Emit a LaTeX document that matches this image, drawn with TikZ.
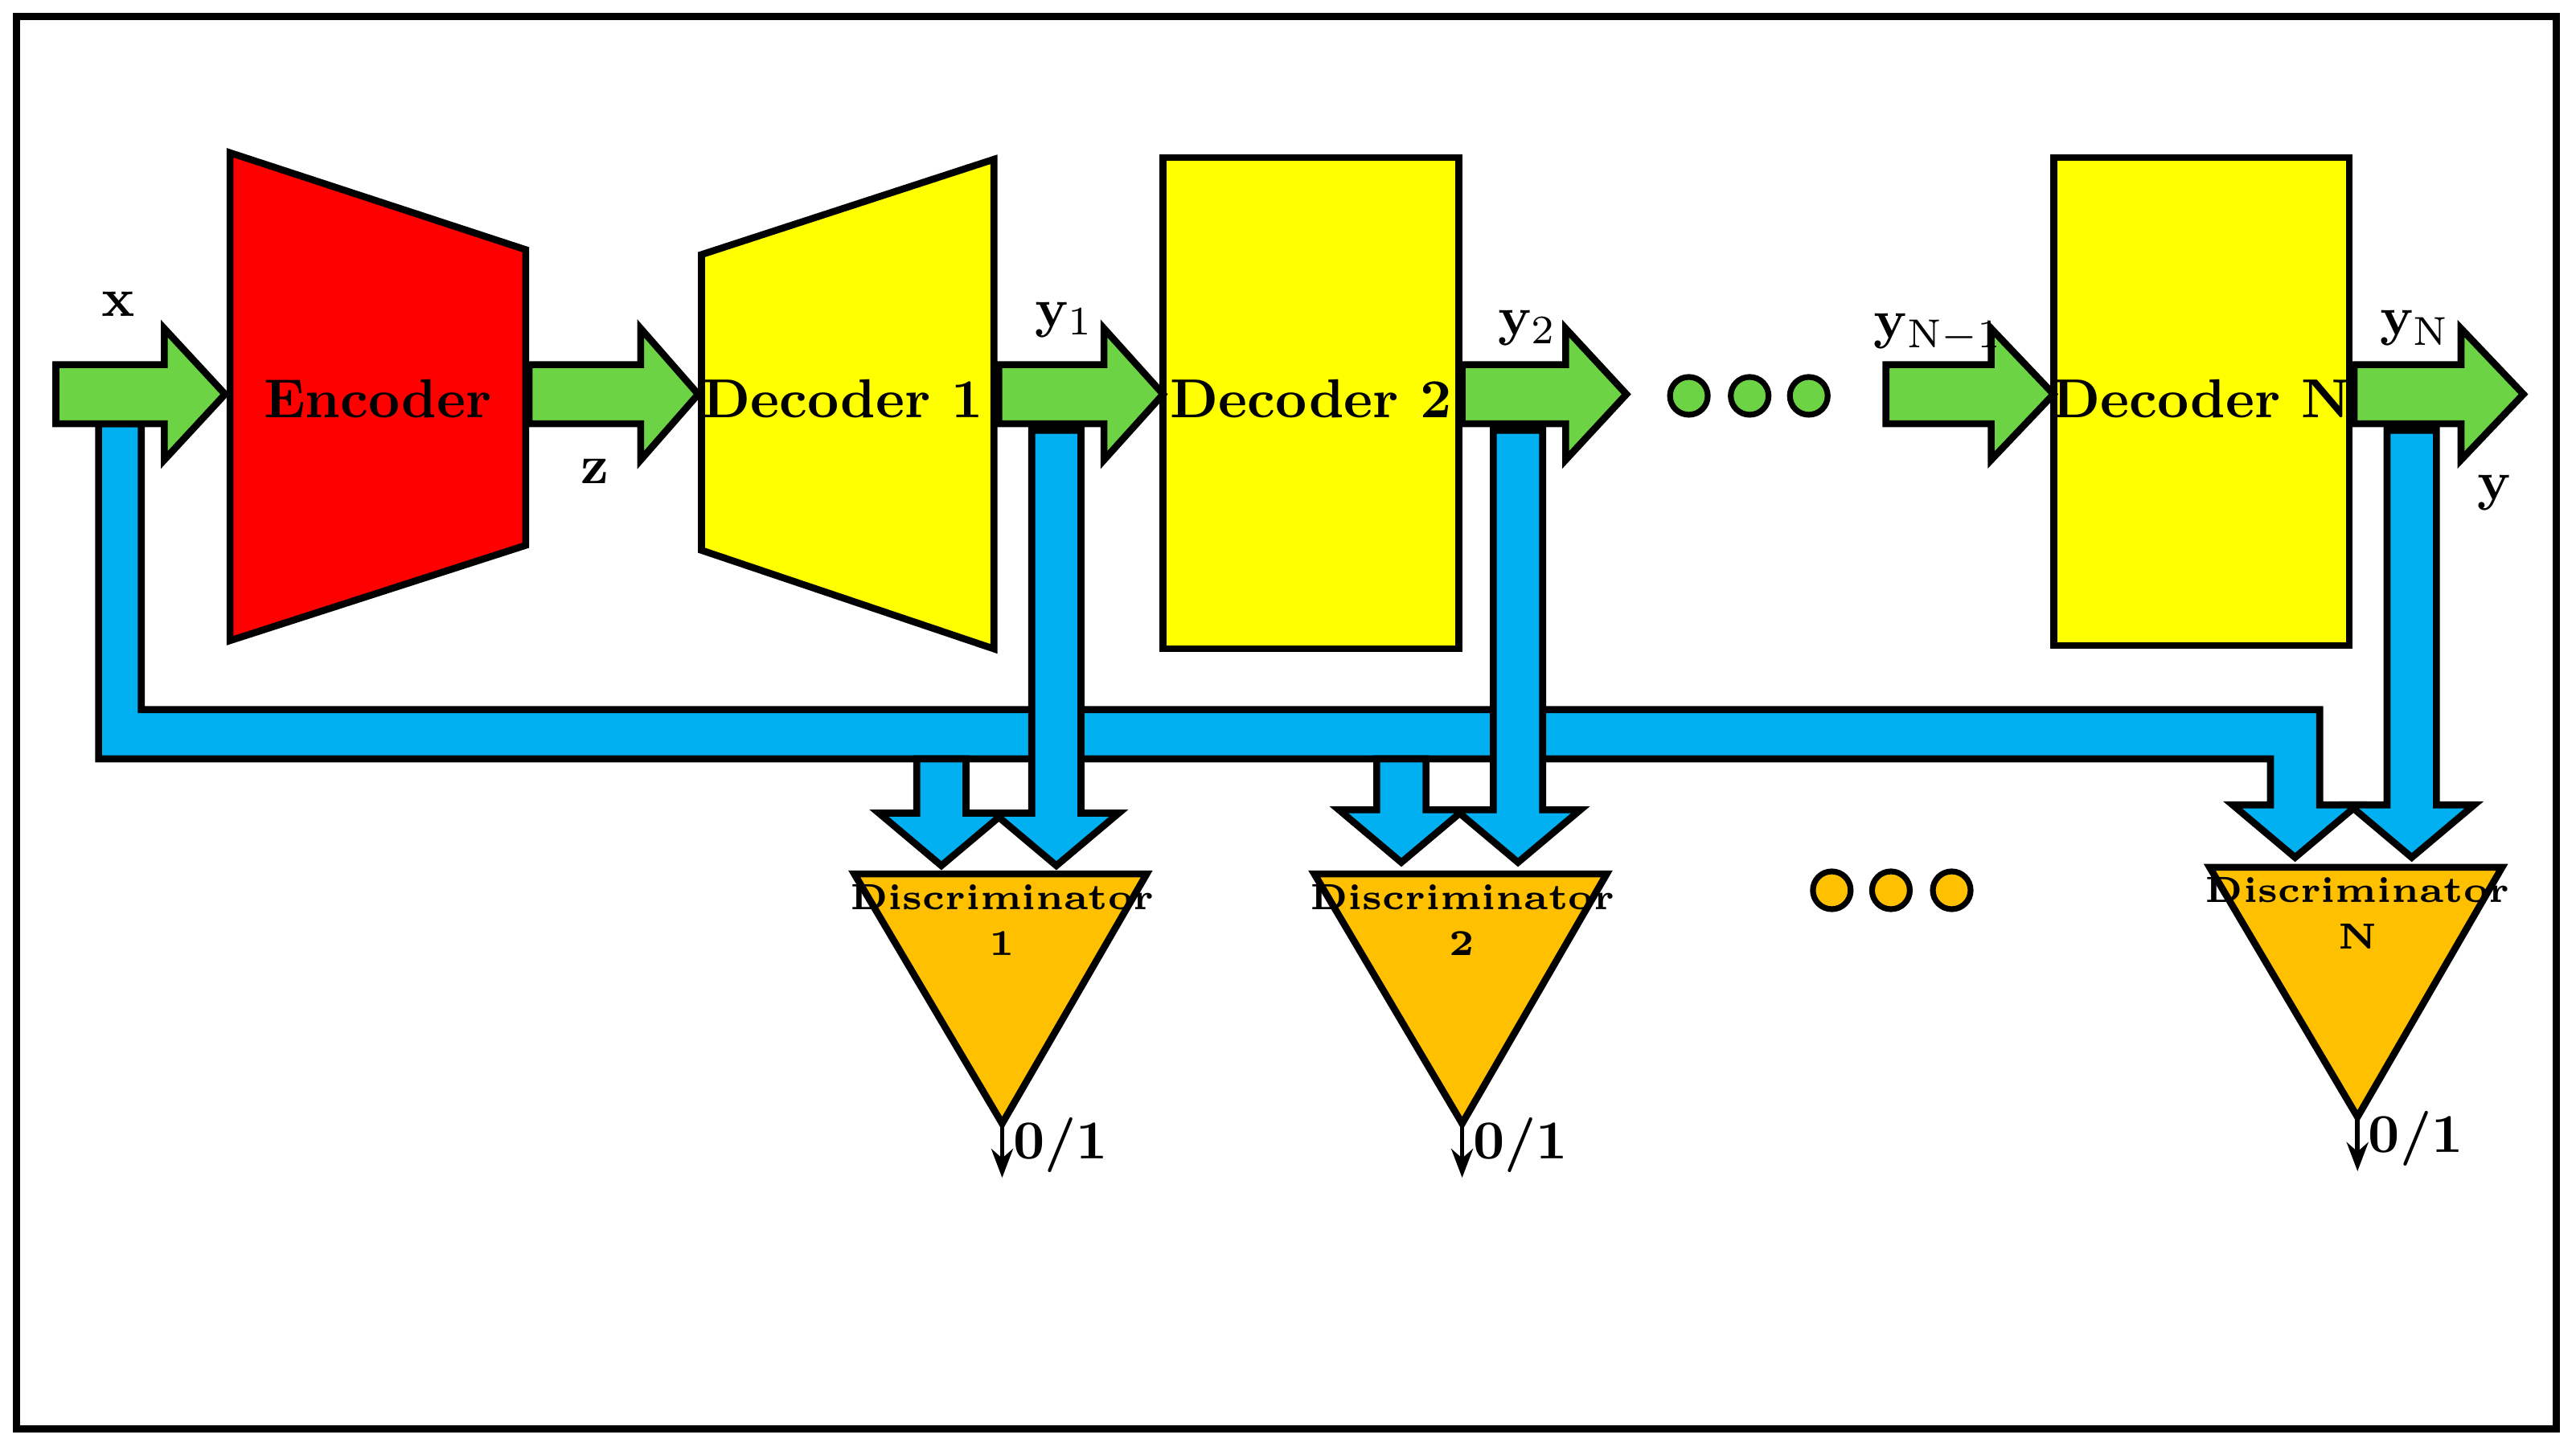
\documentclass[tikz,border=0pt]{standalone}
\usetikzlibrary{arrows.meta}
\definecolor{enc}{HTML}{FF0000}
\definecolor{dec}{HTML}{FFFF00}
\definecolor{flow}{HTML}{6CD444}
\definecolor{pipe}{HTML}{00B0F0}
\definecolor{disc}{HTML}{FFC000}
\tikzset{
    block/.style = {draw, line width=1.2pt, line join=miter},
    label/.style = {font=\fontsize{9.5}{11}\selectfont\bfseries, inner sep=0pt},
    small/.style = {font=\fontsize{6.3}{7}\selectfont\bfseries, inner sep=0pt, align=center},
    dot/.style   = {draw, line width=1pt, circle, minimum size=2.3mm, inner sep=0pt}
}
% green block arrow: start x, end x, head base x
\newcommand{\flowarrow}[3]{%
  \draw[block, fill=flow] (#1,222) -- (#3,222) -- (#3,200) -- (#2,240) -- (#3,280) -- (#3,258) -- (#1,258) -- cycle;}
% blue down arrow: centre x, top y, tip y
\newcommand{\pipearrow}[3]{%
  \draw[block, fill=pipe] (#1-15,#2) -- (#1-15,#3-32) -- (#1-38,#3-32) -- (#1,#3) -- (#1+38,#3-32) -- (#1+15,#3-32) -- (#1+15,#2) -- cycle;}
\begin{document}
\begin{tikzpicture}[x=0.1mm,y=-0.1mm]
  \useasboundingbox (0,0) rectangle (1568,883);
  \draw[line width=1.2pt] (10,10) rectangle (1556,870);

  %% feedback pipe
  \draw[block, fill=pipe] (60,258) -- (86,258) -- (86,432) -- (1412,432) -- (1412,490)
    -- (1435,490) -- (1397,522) -- (1359,490) -- (1382,490) -- (1382,462) -- (60,462) -- cycle;
  \pipearrow{573}{462}{527}
  \pipearrow{853}{462}{525}

  %% encoder / decoders
  \draw[block, fill=enc] (140,93) -- (320,152) -- (320,332) -- (140,390) -- cycle;
  \node[label] (enc) at (230,243) {Encoder};
  \draw[block, fill=dec] (427,155) -- (605,97) -- (605,395) -- (427,335) -- cycle;
  \node[label] (dec1) at (513,243) {Decoder 1};
  \draw[block, fill=dec] (708,96) rectangle (888,395);
  \node[label] (dec2) at (798,243) {Decoder 2};
  \draw[block, fill=dec] (1250,96) rectangle (1430,393);
  \node[label] (decN) at (1340,243) {Decoder N};

  %% flow arrows
  \flowarrow{34}{137}{100}
  \flowarrow{322}{425}{390}
  \flowarrow{608}{708}{672}
  \flowarrow{890}{990}{953}
  \flowarrow{1148}{1250}{1212}
  \flowarrow{1433}{1536}{1498}

  %% outputs down to discriminators
  \pipearrow{643}{262}{527}
  \pipearrow{924}{262}{525}
  \pipearrow{1468}{262}{522}

  %% labels
  \node[label] (x) at (72,185) {x};
  \node[label] (z) at (362,287) {z};
  \node[label] (y1) at (648,195) {y$_1$};
  \node[label] (y2) at (930,200) {y$_2$};
  \node[label] (yN1) at (1180,203) {y$_{\mathrm{N-1}}$};
  \node[label] (yN) at (1470,200) {y$_{\mathrm{N}}$};
  \node[label] (y) at (1518,300) {y};

  %% dots
  \foreach \i [count=\k] in {1028,1065,1101}
    \node[dot, fill=flow] (g\k) at (\i,241) {};
  \foreach \i [count=\k] in {1115,1151,1188}
    \node[dot, fill=disc] (o\k) at (\i,542) {};

  %% discriminators
  \foreach \c/\t/\n/\ty in {610/1/d1/532, 890/2/d2/532, 1435/N/dN/528} {
    \draw[block, fill=disc] (\c-90,\ty) -- (\c+88,\ty) -- (\c,\ty+152) -- cycle;
    \node[small] (\n) at (\c,\ty+28) {Discriminator\\[1pt]\t};
    \coordinate (\n a) at (\c,\ty+152);
    \coordinate (\n b) at (\c,\ty+185);
    \draw[-{Stealth[length=5pt]}, line width=0.8pt] (\n a) -- (\n b);
    \node[label, anchor=west] (\n o) at (\c+6,\ty+165) {0/1};
  }
\end{tikzpicture}
\end{document}
